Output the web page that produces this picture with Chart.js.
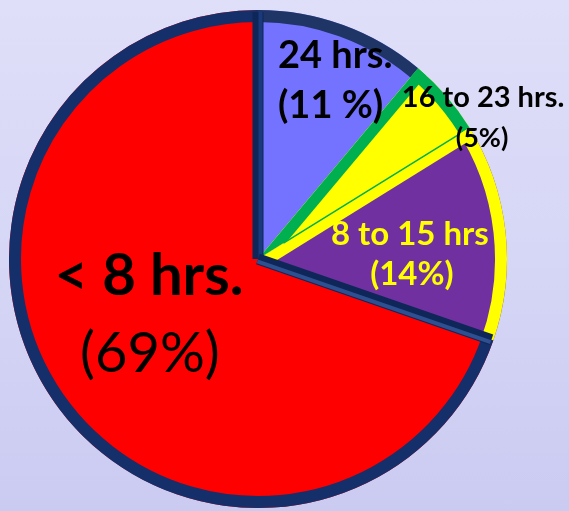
<!DOCTYPE html>
<html><head><meta charset="utf-8">
<script src="https://cdn.jsdelivr.net/npm/chart.js@4.4.1/dist/chart.umd.min.js"></script>
<style>
html,body{margin:0;padding:0;width:569px;height:511px;overflow:hidden;
background:linear-gradient(180deg,#dfdff9 0%,#d6d6f6 50%,#cbcbf2 100%);}
canvas{display:block;}
</style></head><body>
<canvas id="c" width="569" height="511"></canvas>
<script>
// ---- data ----
const categories = ['24 hrs.', '16 to 23 hrs.', '8 to 15 hrs', '< 8 hrs.'];
const percentLabels = ['(11 %)', '(5%)', '(14%)', '(69%)'];
const values = [11, 5, 14, 69];

// ---- styles ----
const sliceColors = ['#7373ff', '#ffff00', '#7030a0', '#ff0000'];
const rimColors = ['#1e3566', '#00b050', '#ffff00', '#152f6b'];
const startEdgeColors = [null, '#00b050', '#ffff00', null];
const labelColors = ['#000000', '#000000', '#ffff00', '#000000'];
const nameFonts = ['bold 38px Lato', 'bold 29px Lato', 'bold 33px Lato', 'bold 58px Lato'];
const pctFonts = ['bold 38px Lato', 'bold 27px Lato', 'bold 33px Lato', '56px Lato'];
// label anchors as fractions of the radius relative to pie centre: [dx1, dy1, dx2, dy2, align]
const labelAnchors = [
  [0.080, -0.767, 0.080, -0.566, 'left'],
  [0.904, -0.610, 0.900, -0.450, 'center'],
  [0.610, -0.056, 0.618, 0.104, 'center'],
  [-0.438, 0.145, -0.434, 0.454, 'center']
];
const RIM = 12, EDGE = 11;

const decor = {
  id: 'decor',
  afterDatasetsDraw(chart) {
    const ctx = chart.ctx;
    const arcs = chart.getDatasetMeta(0).data;
    arcs.forEach((a, i) => {
      const x = a.x, y = a.y, s = a.startAngle, e = a.endAngle, r = a.outerRadius;
      ctx.save();
      ctx.beginPath(); ctx.moveTo(x, y); ctx.arc(x, y, r, s, e); ctx.closePath(); ctx.clip();
      ctx.lineWidth = 2 * RIM; ctx.strokeStyle = rimColors[i];
      ctx.beginPath(); ctx.arc(x, y, r, s - 0.05, e + 0.05); ctx.stroke();
      if (startEdgeColors[i]) {
        ctx.lineWidth = 2 * EDGE; ctx.strokeStyle = startEdgeColors[i];
        ctx.beginPath(); ctx.moveTo(x, y);
        ctx.lineTo(x + r * Math.cos(s), y + r * Math.sin(s)); ctx.stroke();
      }
      ctx.restore();
    });
    // thin green line at end of the 16-23 slice
    const yArc = arcs[1];
    ctx.save();
    ctx.strokeStyle = '#00b050'; ctx.lineWidth = 1.5;
    ctx.beginPath();
    ctx.moveTo(yArc.x + 30 * Math.cos(yArc.endAngle), yArc.y + 30 * Math.sin(yArc.endAngle));
    ctx.lineTo(yArc.x + (yArc.outerRadius - RIM) * Math.cos(yArc.endAngle), yArc.y + (yArc.outerRadius - RIM) * Math.sin(yArc.endAngle));
    ctx.stroke();
    ctx.restore();
    // navy radial separators
    const drawSep = (arc, ang, hl) => {
      const x = arc.x, y = arc.y, r = arc.outerRadius - 2;
      ctx.save();
      ctx.lineCap = 'butt';
      ctx.strokeStyle = '#0f2659'; ctx.lineWidth = EDGE;
      ctx.beginPath(); ctx.moveTo(x, y); ctx.lineTo(x + r * Math.cos(ang), y + r * Math.sin(ang)); ctx.stroke();
      ctx.strokeStyle = hl; ctx.lineWidth = 4;
      const ox = -Math.sin(ang) * 2.5, oy = Math.cos(ang) * 2.5;
      ctx.beginPath(); ctx.moveTo(x + ox, y + oy); ctx.lineTo(x + ox + r * Math.cos(ang), y + oy + r * Math.sin(ang)); ctx.stroke();
      ctx.restore();
    };
    drawSep(arcs[0], arcs[0].startAngle, '#1a3a7c');
    drawSep(arcs[3], arcs[3].startAngle, '#2e4f90');
  },
  afterDraw(chart) {
    const ctx = chart.ctx;
    const arcs = chart.getDatasetMeta(0).data;
    arcs.forEach((a, i) => {
      const R = a.outerRadius, an = labelAnchors[i];
      ctx.save();
      ctx.fillStyle = labelColors[i];
      ctx.textAlign = an[4]; ctx.textBaseline = 'alphabetic';
      ctx.font = nameFonts[i];
      ctx.fillText(categories[i], a.x + an[0] * R, a.y + an[1] * R);
      ctx.font = pctFonts[i];
      ctx.fillText(percentLabels[i], a.x + an[2] * R, a.y + an[3] * R);
      ctx.restore();
    });
  }
};

new Chart(document.getElementById('c'), {
  type: 'pie',
  data: {
    labels: categories,
    datasets: [{ data: values, backgroundColor: sliceColors, borderWidth: 0 }]
  },
  options: {
    responsive: false,
    animation: false,
    devicePixelRatio: 1,
    layout: { padding: { top: 10, bottom: 3, left: 9, right: 62 } },
    plugins: { legend: { display: false }, tooltip: { enabled: false } }
  },
  plugins: [decor]
});
</script>
</body></html>
